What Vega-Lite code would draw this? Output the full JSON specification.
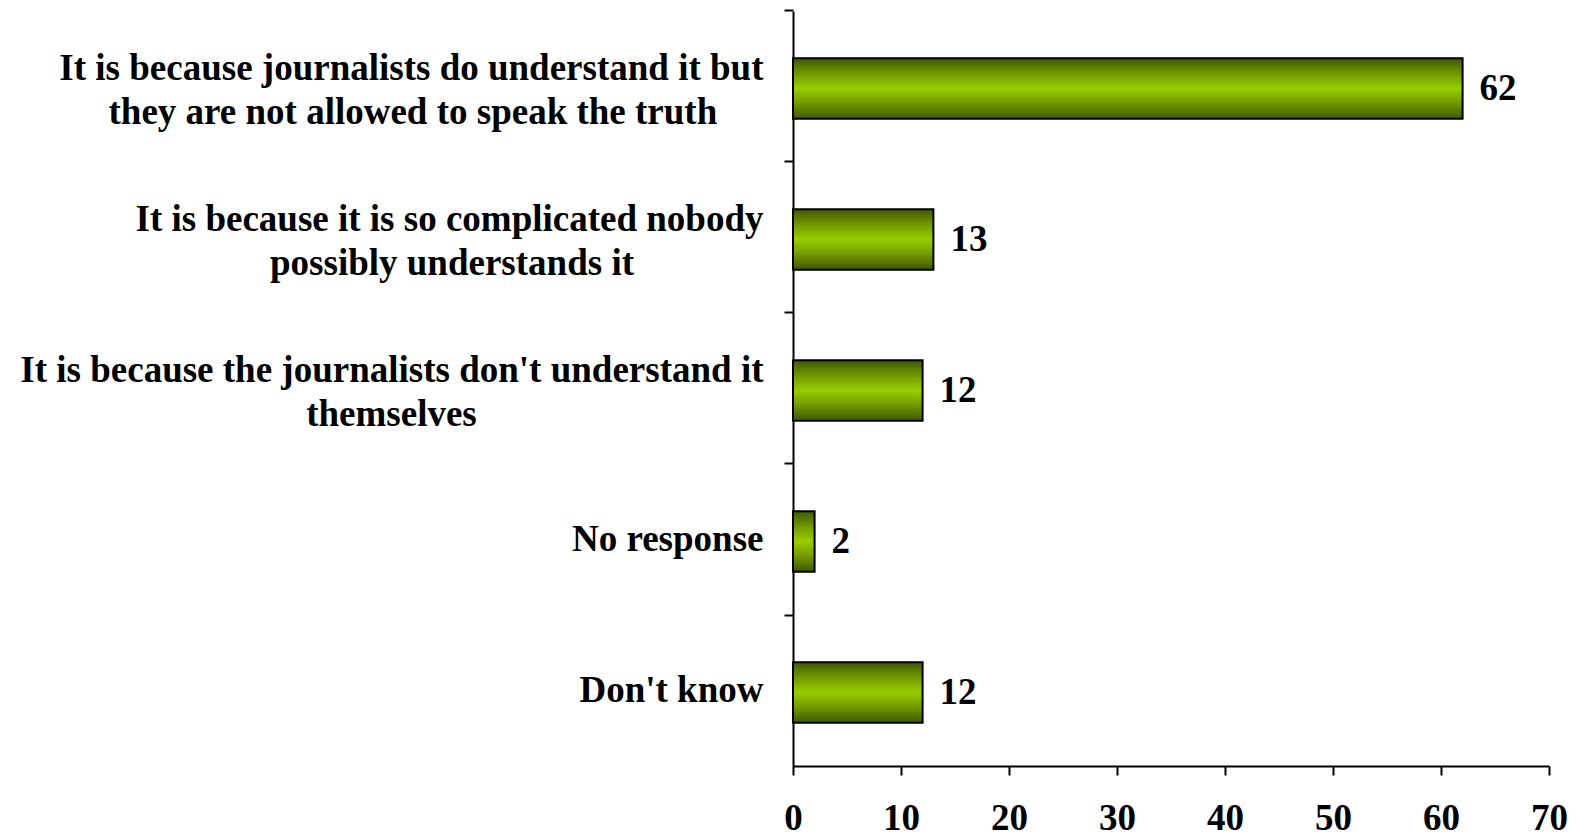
{
  "$schema": "https://vega.github.io/schema/vega-lite/v6.json",
  "width": 756,
  "height": 755,
  "autosize": "none",
  "padding": {"left": 793, "top": 11, "right": 32, "bottom": 71},
  "background": "white",
  "config": {"view": {"stroke": null}, "font": "Liberation Serif"},
  "data": {
    "values": [
      {"category": "It is because journalists do understand it but|they are not allowed to speak the truth\u00a0\u00a0\u00a0\u00a0\u00a0\u200b", "value": 62},
      {"category": "It is because it is so complicated nobody|possibly understands it\u00a0\u00a0\u00a0\u00a0\u00a0\u00a0\u00a0\u00a0\u00a0\u00a0\u00a0\u00a0\u00a0\u00a0\u200b", "value": 13},
      {"category": "It is because the journalists don't understand it|themselves\u00a0\u00a0\u00a0\u00a0\u00a0\u00a0\u00a0\u00a0\u00a0\u00a0\u00a0\u00a0\u00a0\u00a0\u00a0\u00a0\u00a0\u00a0\u00a0\u00a0\u00a0\u00a0\u00a0\u00a0\u00a0\u00a0\u00a0\u00a0\u00a0\u00a0\u00a0\u200b", "value": 12},
      {"category": "No response", "value": 2},
      {"category": "Don't know", "value": 12}
    ]
  },
  "encoding": {
    "y": {
      "field": "category",
      "type": "nominal",
      "sort": null,
      "scale": {"paddingInner": 0.6, "paddingOuter": 0.3},
      "axis": {
        "title": null,
        "labelExpr": "split(datum.label, '|')",
        "labelFont": "Liberation Serif",
        "labelFontSize": 37,
        "labelFontWeight": "bold",
        "labelColor": "black",
        "labelLimit": 900,
        "labelLineHeight": 44,
        "labelPadding": 21,
        "labelAlign": "right",
        "labelBaseline": "middle",
        "labelOffset": {"condition": {"test": "indexof(datum.value, '|') >= 0", "value": -18}, "value": 0},
        "bandPosition": -0.75,
        "tickSize": 9,
        "tickWidth": 2,
        "tickColor": "black",
        "domainColor": "black",
        "domainWidth": 2,
        "grid": false
      }
    },
    "x": {
      "field": "value",
      "type": "quantitative",
      "scale": {"domain": [0, 70], "nice": false},
      "axis": {
        "title": null,
        "values": [0, 10, 20, 30, 40, 50, 60, 70],
        "labelFont": "Liberation Serif",
        "labelFontSize": 37,
        "labelFontWeight": "bold",
        "labelColor": "black",
        "labelPadding": 25,
        "labelFlush": false,
        "labelOverlap": false,
        "tickSize": 9,
        "tickWidth": 2,
        "tickColor": "black",
        "domainColor": "black",
        "domainWidth": 2,
        "grid": false
      }
    }
  },
  "layer": [
    {
      "mark": {
        "type": "bar",
        "yOffset": 2,
        "fill": {
          "gradient": "linear",
          "x1": 0, "y1": 0, "x2": 0, "y2": 1,
          "stops": [
            {"offset": 0, "color": "#3f5800"},
            {"offset": 0.3, "color": "#7aa300"},
            {"offset": 0.5, "color": "#99cc00"},
            {"offset": 0.7, "color": "#7aa300"},
            {"offset": 1, "color": "#3f5800"}
          ]
        },
        "stroke": "black",
        "strokeWidth": 2
      }
    },
    {
      "mark": {
        "type": "text",
        "align": "left",
        "baseline": "middle",
        "dx": 17,
        "yOffset": 2,
        "font": "Liberation Serif",
        "fontSize": 37,
        "fontWeight": "bold",
        "color": "black"
      },
      "encoding": {"text": {"field": "value", "type": "quantitative"}}
    }
  ]
}
